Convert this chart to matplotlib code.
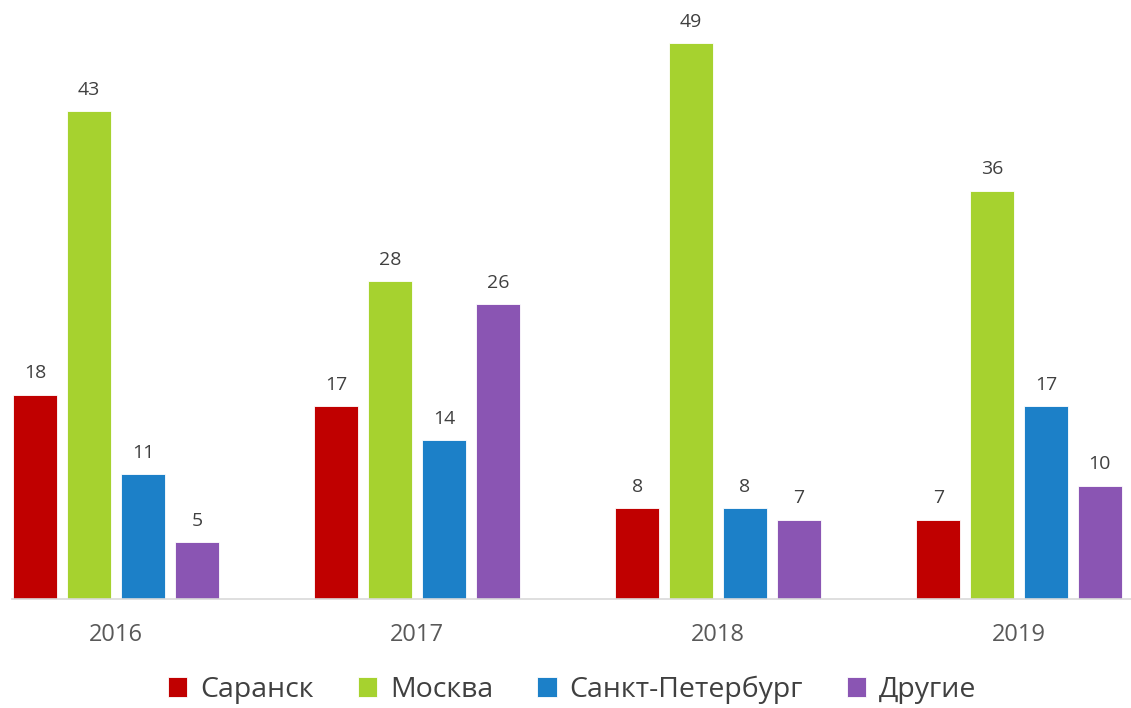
import matplotlib.pyplot as plt
import numpy as np

plt.rcParams['font.family'] = ['Open Sans', 'DejaVu Sans']

years = ['2016', '2017', '2018', '2019']
cities = ['Саранск', 'Москва', 'Санкт-Петербург', 'Другие']
saransk = [18, 17, 8, 7]
moskva = [43, 28, 49, 36]
spb = [11, 14, 8, 17]
drugie = [5, 26, 7, 10]
colors = ['#C00000', '#A6D22F', '#1C80C8', '#8A55B3']

series = [saransk, moskva, spb, drugie]

fig = plt.figure(figsize=(11.31, 7.08), dpi=100)
ax = fig.add_axes([12 / 1131, 109 / 708, 1 - 12 / 1131, 599 / 708])

x = np.arange(len(years))
w = 0.146
step = 0.179
for i, (vals, c, name) in enumerate(zip(series, colors, cities)):
    pos = x + (i - 1.5) * step
    ax.bar(pos, vals, width=w, color=c, label=name,
           edgecolor='white', linewidth=0.6)
    for p, v in zip(pos, vals):
        ax.annotate(str(v), (p, v), xytext=(0, 9), textcoords='offset points',
                    ha='center', va='bottom', fontsize=14, color='#404040')

ax.set_xlim(-0.3455, 3.372)
ax.set_ylim(0, 52.8)
for s in ['top', 'right', 'left']:
    ax.spines[s].set_visible(False)
ax.spines['bottom'].set_color('#D9D9D9')
ax.spines['bottom'].set_linewidth(1.2)
ax.set_yticks([])
ax.set_xticks(x)
ax.set_xticklabels(years, fontsize=17, color='#595959')
ax.tick_params(axis='x', length=0, pad=17)

fig.legend(loc='center', bbox_to_anchor=(0.506, 1 - 690 / 708), ncol=4, frameon=False,
           fontsize=20.5, handlelength=0.68, handleheight=0.68, handletextpad=0.45,
           columnspacing=1.55, labelcolor='#404040')

fig.savefig('out.png', dpi=100)
